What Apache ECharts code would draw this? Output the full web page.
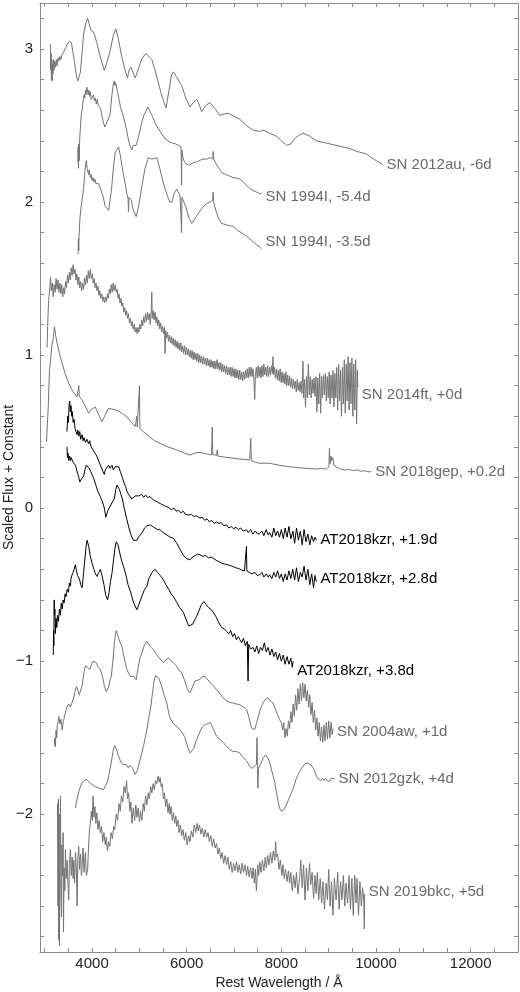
<!DOCTYPE html>
<html>
<head>
<meta charset="utf-8">
<script src="https://cdn.jsdelivr.net/npm/echarts@6/dist/echarts.min.js"></script>
<style>
html,body{margin:0;padding:0;background:#fff}
#main{width:520px;height:992px}
</style>
</head>
<body>
<div id="main"></div>
<script>
// spectra: [rest wavelength (A), scaled flux + constant]
var sn2012au = [[3120,3.03],[3128,2.86],[3135,2.97],[3142,2.80],[3150,2.93],[3158,2.79],[3166,2.90],[3175,2.84],[3185,2.93],[3195,2.86],[3210,2.92],[3227,2.88],[3245,2.93],[3260,2.89],[3280,2.94],[3300,2.92],[3320,2.95],[3340,2.93],[3360,2.96],[3380,2.95],[3400,2.98],[3420,2.99],[3445,3.01],[3474,3.03],[3500,3.02],[3520,3.05],[3543,3.06],[3565,3.04],[3579,3.03],[3600,2.97],[3627,2.92],[3660,2.84],[3697,2.79],[3730,2.82],[3754,2.85],[3790,2.98],[3823,3.10],[3870,3.17],[3907,3.20],[3940,3.16],[3979,3.12],[4000,3.13],[4034,3.11],[4100,3.04],[4180,2.94],[4259,2.86],[4320,2.92],[4385,2.99],[4450,3.09],[4505,3.13],[4560,3.06],[4620,2.96],[4665,2.90],[4710,2.85],[4749,2.81],[4780,2.86],[4821,2.88],[4860,2.85],[4911,2.81],[4990,2.88],[5060,2.94],[5137,2.97],[5200,2.95],[5263,2.93],[5350,2.84],[5450,2.72],[5520,2.65],[5564,2.615],[5620,2.72],[5680,2.83],[5718,2.85],[5800,2.81],[5895,2.76],[5980,2.68],[6069,2.62],[6140,2.65],[6210,2.67],[6260,2.64],[6316,2.59],[6400,2.63],[6491,2.65],[6600,2.61],[6701,2.565],[6790,2.575],[6876,2.58],[7000,2.56],[7123,2.54],[7260,2.50],[7402,2.47],[7543,2.46],[7612,2.47],[7750,2.45],[7894,2.43],[8000,2.40],[8117,2.37],[8200,2.38],[8300,2.42],[8454,2.45],[8600,2.43],[8736,2.40],[8950,2.385],[9157,2.37],[9300,2.36],[9437,2.35],[9600,2.33],[9789,2.315],[9950,2.28],[10138,2.245]];

var sn1994i_a = [[3700,2.26],[3706,2.36],[3712,2.22],[3720,2.38],[3728,2.27],[3740,2.42],[3760,2.52],[3775,2.58],[3790,2.60],[3810,2.66],[3830,2.70],[3845,2.68],[3860,2.73],[3875,2.70],[3890,2.75],[3907,2.755],[3920,2.70],[3935,2.73],[3950,2.69],[3965,2.72],[3980,2.67],[4000,2.68],[4015,2.66],[4030,2.70],[4050,2.66],[4070,2.68],[4090,2.64],[4110,2.67],[4130,2.63],[4150,2.64],[4180,2.61],[4210,2.56],[4240,2.52],[4270,2.49],[4300,2.51],[4340,2.50],[4380,2.57],[4420,2.70],[4450,2.77],[4465,2.79],[4480,2.76],[4500,2.78],[4530,2.73],[4570,2.67],[4600,2.62],[4650,2.57],[4700,2.51],[4730,2.47],[4760,2.42],[4790,2.38],[4810,2.36],[4840,2.34],[4870,2.37],[4900,2.38],[4930,2.37],[4960,2.40],[5000,2.45],[5050,2.52],[5100,2.57],[5150,2.60],[5180,2.62],[5210,2.60],[5240,2.58],[5290,2.55],[5340,2.51],[5380,2.49],[5420,2.47],[5480,2.44],[5550,2.41],[5600,2.40],[5650,2.39],[5700,2.385],[5760,2.38],[5830,2.37],[5880,2.36],[5892,2.11],[5898,2.34],[5920,2.29],[5940,2.27],[5980,2.25],[6020,2.245],[6060,2.24],[6100,2.25],[6150,2.26],[6200,2.26],[6260,2.27],[6340,2.28],[6420,2.28],[6500,2.29],[6550,2.28],[6560,2.33],[6570,2.28],[6620,2.25],[6680,2.22],[6750,2.19],[6820,2.18],[6900,2.17],[6980,2.16],[7050,2.155],[7120,2.15],[7200,2.13],[7260,2.11],[7330,2.09],[7400,2.075],[7470,2.065],[7520,2.06],[7550,2.065],[7565,2.05],[7580,2.06]];

var sn1994i_b = [[3705,1.66],[3712,1.76],[3718,1.68],[3726,1.78],[3745,1.90],[3770,1.97],[3789,1.97],[3805,2.05],[3823,2.10],[3850,2.20],[3865,2.25],[3880,2.27],[3895,2.22],[3907,2.23],[3925,2.18],[3940,2.21],[3960,2.16],[3980,2.18],[4000,2.14],[4020,2.16],[4040,2.13],[4060,2.15],[4080,2.12],[4105,2.13],[4140,2.12],[4175,2.12],[4230,2.04],[4280,1.97],[4316,1.96],[4350,1.945],[4370,1.95],[4410,2.08],[4450,2.22],[4490,2.325],[4525,2.34],[4560,2.36],[4600,2.30],[4650,2.20],[4700,2.12],[4737,2.05],[4762,2.02],[4770,1.935],[4778,2.03],[4827,2.015],[4870,1.95],[4933,1.905],[4990,1.98],[5050,2.10],[5120,2.22],[5191,2.29],[5260,2.28],[5368,2.29],[5430,2.22],[5500,2.13],[5580,2.05],[5640,2.00],[5684,2.00],[5740,2.06],[5789,2.085],[5859,2.04],[5892,1.80],[5898,2.03],[5930,2.03],[5980,1.97],[6040,1.90],[6105,1.86],[6170,1.89],[6244,1.925],[6320,1.96],[6420,1.99],[6500,2.00],[6547,2.01],[6560,2.065],[6570,2.00],[6620,1.94],[6680,1.89],[6736,1.86],[6850,1.85],[6981,1.84],[7100,1.81],[7200,1.79],[7296,1.77],[7400,1.74],[7480,1.72],[7543,1.706],[7580,1.695]];

var sn2014ft = [[3050,1.05],[3065,1.22],[3080,1.34],[3095,1.40],[3108,1.445],[3122,1.51],[3140,1.42],[3160,1.47],[3180,1.38],[3200,1.46],[3220,1.41],[3240,1.50],[3260,1.43],[3280,1.49],[3300,1.41],[3320,1.47],[3340,1.40],[3360,1.46],[3380,1.38],[3402,1.44],[3420,1.40],[3440,1.48],[3460,1.44],[3480,1.52],[3500,1.47],[3520,1.54],[3540,1.49],[3560,1.57],[3579,1.52],[3600,1.59],[3620,1.53],[3640,1.56],[3660,1.49],[3680,1.53],[3700,1.46],[3720,1.51],[3740,1.44],[3760,1.48],[3780,1.42],[3800,1.47],[3820,1.43],[3840,1.50],[3860,1.46],[3880,1.52],[3900,1.47],[3920,1.55],[3940,1.50],[3963,1.56],[3985,1.50],[4005,1.53],[4025,1.47],[4045,1.50],[4065,1.44],[4085,1.47],[4104,1.42],[4125,1.45],[4145,1.39],[4165,1.42],[4185,1.37],[4205,1.40],[4225,1.35],[4245,1.38],[4265,1.34],[4285,1.38],[4305,1.35],[4325,1.40],[4345,1.37],[4365,1.43],[4385,1.40],[4405,1.46],[4425,1.41],[4445,1.47],[4465,1.42],[4490,1.46],[4510,1.41],[4530,1.43],[4550,1.37],[4570,1.40],[4590,1.34],[4610,1.37],[4630,1.32],[4650,1.34],[4670,1.28],[4690,1.31],[4710,1.26],[4730,1.29],[4750,1.24],[4770,1.27],[4790,1.21],[4810,1.24],[4830,1.19],[4850,1.22],[4870,1.17],[4890,1.20],[4910,1.15],[4930,1.18],[4950,1.14],[4970,1.18],[4990,1.15],[5010,1.20],[5030,1.17],[5050,1.23],[5070,1.19],[5090,1.25],[5110,1.21],[5130,1.27],[5150,1.22],[5170,1.28],[5190,1.23],[5210,1.27],[5230,1.20],[5250,1.29],[5262,1.41],[5272,1.24],[5290,1.29],[5310,1.23],[5330,1.28],[5350,1.21],[5370,1.25],[5390,1.19],[5410,1.23],[5430,1.17],[5450,1.21],[5470,1.15],[5490,1.19],[5510,1.14],[5530,1.18],[5543,1.01],[5555,1.16],[5575,1.11],[5595,1.15],[5615,1.09],[5635,1.13],[5655,1.08],[5675,1.12],[5695,1.07],[5715,1.11],[5735,1.06],[5755,1.10],[5775,1.05],[5795,1.09],[5815,1.04],[5835,1.08],[5855,1.03],[5875,1.08],[5895,1.02],[5915,1.06],[5935,1.01],[5955,1.06],[5975,1.00],[5995,1.05],[6015,1.00],[6035,1.04],[6055,0.99],[6075,1.03],[6095,0.98],[6115,1.03],[6135,0.97],[6155,1.02],[6175,0.97],[6195,1.01],[6215,0.96],[6235,1.01],[6255,0.95],[6275,1.00],[6295,0.95],[6315,0.99],[6335,0.94],[6355,0.99],[6375,0.94],[6395,0.98],[6415,0.93],[6435,0.98],[6455,0.93],[6475,0.97],[6495,0.92],[6515,0.97],[6535,0.92],[6555,0.96],[6575,0.91],[6595,0.96],[6615,0.91],[6640,0.97],[6660,0.91],[6680,0.95],[6700,0.90],[6720,0.95],[6740,0.89],[6760,0.94],[6780,0.89],[6800,0.93],[6820,0.88],[6840,0.93],[6860,0.87],[6880,0.92],[6900,0.87],[6920,0.92],[6940,0.86],[6960,0.92],[6980,0.86],[7000,0.91],[7020,0.85],[7040,0.91],[7060,0.85],[7080,0.90],[7100,0.84],[7120,0.90],[7140,0.84],[7160,0.89],[7180,0.83],[7200,0.89],[7220,0.84],[7240,0.90],[7260,0.85],[7280,0.91],[7300,0.85],[7320,0.92],[7340,0.86],[7360,0.92],[7380,0.86],[7400,0.91],[7420,0.84],[7437,0.71],[7450,0.86],[7470,0.92],[7490,0.85],[7510,0.93],[7530,0.86],[7550,0.92],[7570,0.85],[7590,0.93],[7610,0.86],[7630,0.94],[7650,0.87],[7670,0.92],[7690,0.86],[7710,0.93],[7730,0.86],[7750,0.92],[7770,0.87],[7790,0.93],[7810,0.88],[7823,0.99],[7835,0.87],[7855,0.92],[7875,0.85],[7895,0.91],[7915,0.84],[7935,0.90],[7955,0.83],[7975,0.91],[7995,0.82],[8015,0.89],[8035,0.82],[8055,0.88],[8075,0.81],[8095,0.89],[8115,0.80],[8135,0.87],[8155,0.80],[8175,0.86],[8195,0.79],[8215,0.85],[8235,0.78],[8255,0.84],[8275,0.78],[8295,0.83],[8315,0.76],[8335,0.84],[8355,0.77],[8375,0.82],[8395,0.76],[8415,0.83],[8435,0.75],[8455,0.96],[8470,0.72],[8490,0.84],[8510,0.66],[8530,0.86],[8550,0.72],[8570,0.94],[8590,0.74],[8610,0.86],[8630,0.72],[8650,0.84],[8670,0.75],[8690,0.85],[8710,0.73],[8730,0.86],[8750,0.63],[8770,0.85],[8790,0.68],[8810,0.88],[8830,0.62],[8850,0.86],[8870,0.72],[8890,0.87],[8910,0.74],[8930,0.88],[8950,0.70],[8970,0.86],[8990,0.72],[9010,0.89],[9030,0.68],[9050,0.87],[9070,0.72],[9090,0.90],[9110,0.66],[9130,0.88],[9150,0.72],[9170,0.92],[9190,0.64],[9210,0.94],[9230,0.70],[9250,0.90],[9270,0.60],[9290,0.92],[9310,0.68],[9330,0.97],[9350,0.62],[9370,0.94],[9390,0.70],[9410,0.99],[9430,0.64],[9450,0.95],[9470,0.68],[9490,0.98],[9510,0.60],[9530,0.94],[9550,0.64],[9570,0.97],[9590,0.55],[9605,0.90],[9615,0.79]];

var sn2018gep = [[3038,0.434],[3074,0.66],[3100,0.90],[3122,0.967],[3150,1.06],[3179,1.108],[3206,1.184],[3230,1.13],[3263,1.076],[3310,1.01],[3368,0.945],[3440,0.87],[3507,0.815],[3600,0.76],[3684,0.727],[3710,0.74],[3720,0.80],[3730,0.73],[3789,0.706],[3850,0.67],[3928,0.62],[3990,0.645],[4069,0.66],[4140,0.61],[4210,0.564],[4280,0.61],[4350,0.652],[4440,0.645],[4526,0.64],[4630,0.62],[4737,0.597],[4830,0.56],[4911,0.532],[4940,0.53],[4947,0.60],[4955,0.53],[4995,0.52],[5002,0.80],[5010,0.52],[5086,0.499],[5200,0.47],[5320,0.44],[5438,0.423],[5600,0.40],[5789,0.38],[5950,0.36],[6069,0.347],[6180,0.36],[6280,0.365],[6400,0.355],[6526,0.347],[6539,0.53],[6550,0.35],[6635,0.345],[6644,0.38],[6655,0.34],[6800,0.333],[6981,0.326],[7150,0.32],[7332,0.314],[7353,0.456],[7365,0.31],[7450,0.30],[7543,0.293],[7650,0.293],[7753,0.293],[7950,0.28],[8174,0.27],[8450,0.262],[8736,0.255],[8850,0.26],[8950,0.255],[9005,0.27],[9016,0.39],[9028,0.29],[9050,0.34],[9065,0.31],[9086,0.33],[9110,0.28],[9156,0.27],[9250,0.255],[9350,0.25],[9437,0.252],[9520,0.245],[9600,0.25],[9680,0.24],[9750,0.245],[9830,0.237],[9900,0.238]];

var at2018kzr_19 = [[3470,0.50],[3485,0.60],[3500,0.56],[3515,0.68],[3528,0.70],[3540,0.63],[3555,0.67],[3570,0.60],[3585,0.63],[3600,0.56],[3620,0.58],[3640,0.52],[3660,0.53],[3684,0.48],[3700,0.51],[3720,0.47],[3740,0.50],[3760,0.45],[3789,0.48],[3810,0.44],[3830,0.46],[3860,0.43],[3890,0.45],[3928,0.42],[3950,0.44],[3980,0.40],[4010,0.41],[4040,0.37],[4069,0.38],[4100,0.34],[4130,0.33],[4175,0.28],[4200,0.27],[4230,0.24],[4259,0.22],[4280,0.25],[4310,0.26],[4349,0.28],[4380,0.26],[4420,0.28],[4450,0.25],[4490,0.27],[4520,0.26],[4560,0.27],[4596,0.24],[4640,0.20],[4680,0.16],[4710,0.14],[4737,0.11],[4770,0.09],[4800,0.08],[4840,0.06],[4876,0.065],[4910,0.08],[4950,0.09],[4990,0.08],[5052,0.09],[5090,0.07],[5130,0.085],[5180,0.07],[5227,0.075],[5270,0.06],[5320,0.05],[5380,0.04],[5438,0.03],[5480,0.025],[5530,0.015],[5579,0.01],[5630,0.0],[5680,-0.01],[5730,0.0],[5780,-0.02],[5830,-0.015],[5880,-0.03],[5930,-0.02],[5970,-0.04],[6000,-0.03],[6050,-0.045],[6100,-0.04],[6150,-0.055],[6200,-0.05],[6280,-0.065],[6330,-0.06],[6380,-0.08],[6430,-0.07],[6480,-0.09],[6530,-0.08],[6580,-0.10],[6630,-0.09],[6680,-0.10],[6730,-0.095],[6780,-0.115],[6842,-0.11],[6890,-0.13],[6940,-0.12],[6990,-0.135],[7040,-0.125],[7090,-0.14],[7140,-0.13],[7190,-0.15],[7263,-0.142],[7300,-0.16],[7350,-0.14],[7400,-0.17],[7450,-0.15],[7500,-0.17],[7543,-0.164],[7590,-0.15],[7630,-0.18],[7680,-0.14],[7720,-0.175],[7753,-0.16],[7800,-0.19],[7840,-0.13],[7880,-0.18],[7920,-0.15],[7960,-0.19],[8000,-0.14],[8040,-0.20],[8080,-0.13],[8120,-0.19],[8160,-0.12],[8200,-0.20],[8244,-0.15],[8280,-0.23],[8320,-0.13],[8360,-0.21],[8400,-0.15],[8440,-0.24],[8480,-0.14],[8520,-0.22],[8560,-0.17],[8600,-0.24],[8640,-0.18],[8680,-0.22],[8710,-0.19],[8740,-0.21]];

var at2018kzr_28 = [[3470,0.40],[3480,0.33],[3490,0.36],[3507,0.31],[3525,0.34],[3545,0.31],[3560,0.33],[3579,0.32],[3600,0.30],[3620,0.31],[3650,0.28],[3684,0.27],[3700,0.22],[3720,0.20],[3740,0.17],[3754,0.16],[3775,0.19],[3800,0.20],[3823,0.21],[3850,0.25],[3880,0.28],[3900,0.29],[3916,0.29],[3940,0.26],[3970,0.24],[4000,0.23],[4040,0.19],[4080,0.15],[4120,0.11],[4175,0.075],[4220,0.04],[4260,0.0],[4290,-0.06],[4301,-0.066],[4330,-0.02],[4360,0.0],[4385,0.01],[4430,0.04],[4470,0.06],[4500,0.12],[4526,0.15],[4550,0.14],[4580,0.12],[4610,0.09],[4640,0.06],[4680,0.0],[4737,-0.077],[4780,-0.13],[4830,-0.18],[4870,-0.21],[4911,-0.22],[4950,-0.21],[4980,-0.19],[5017,-0.186],[5060,-0.16],[5110,-0.13],[5160,-0.115],[5227,-0.11],[5280,-0.12],[5330,-0.13],[5380,-0.14],[5438,-0.142],[5500,-0.16],[5580,-0.175],[5650,-0.19],[5718,-0.196],[5790,-0.23],[5860,-0.27],[5930,-0.31],[6000,-0.33],[6069,-0.338],[6120,-0.32],[6180,-0.31],[6230,-0.30],[6280,-0.305],[6340,-0.315],[6400,-0.31],[6460,-0.325],[6520,-0.32],[6560,-0.327],[6620,-0.34],[6680,-0.35],[6740,-0.36],[6800,-0.365],[6860,-0.37],[6920,-0.375],[6981,-0.382],[7040,-0.39],[7100,-0.395],[7160,-0.405],[7220,-0.41],[7250,-0.40],[7262,-0.25],[7270,-0.41],[7320,-0.42],[7380,-0.43],[7440,-0.42],[7490,-0.44],[7543,-0.436],[7590,-0.42],[7630,-0.45],[7680,-0.43],[7720,-0.45],[7753,-0.436],[7800,-0.46],[7840,-0.42],[7880,-0.45],[7920,-0.41],[7960,-0.46],[8000,-0.43],[8040,-0.48],[8080,-0.43],[8120,-0.47],[8160,-0.41],[8200,-0.46],[8240,-0.40],[8280,-0.47],[8320,-0.39],[8360,-0.48],[8400,-0.42],[8440,-0.45],[8480,-0.38],[8520,-0.47],[8560,-0.40],[8600,-0.50],[8640,-0.43],[8680,-0.52],[8710,-0.44],[8740,-0.48]];

var at2018kzr_38 = [[3180,-0.96],[3186,-0.80],[3192,-0.90],[3200,-0.60],[3206,-0.70],[3215,-0.66],[3225,-0.82],[3240,-0.72],[3255,-0.78],[3270,-0.70],[3290,-0.74],[3310,-0.66],[3330,-0.70],[3350,-0.62],[3368,-0.66],[3390,-0.60],[3410,-0.62],[3430,-0.56],[3450,-0.58],[3474,-0.53],[3500,-0.55],[3520,-0.49],[3540,-0.51],[3560,-0.45],[3579,-0.46],[3600,-0.42],[3620,-0.40],[3648,-0.37],[3670,-0.41],[3695,-0.44],[3718,-0.45],[3740,-0.47],[3760,-0.50],[3789,-0.52],[3810,-0.46],[3840,-0.36],[3870,-0.26],[3895,-0.21],[3907,-0.207],[3930,-0.25],[3960,-0.31],[4000,-0.36],[4040,-0.40],[4070,-0.43],[4105,-0.447],[4140,-0.42],[4175,-0.40],[4210,-0.44],[4250,-0.50],[4290,-0.57],[4328,-0.60],[4360,-0.55],[4390,-0.48],[4421,-0.425],[4450,-0.35],[4480,-0.27],[4510,-0.22],[4526,-0.207],[4550,-0.24],[4590,-0.30],[4630,-0.35],[4665,-0.382],[4710,-0.43],[4760,-0.50],[4821,-0.555],[4880,-0.62],[4947,-0.664],[5000,-0.62],[5060,-0.57],[5110,-0.53],[5158,-0.512],[5200,-0.46],[5250,-0.43],[5290,-0.41],[5333,-0.40],[5380,-0.42],[5440,-0.44],[5507,-0.468],[5560,-0.50],[5620,-0.53],[5670,-0.56],[5718,-0.577],[5780,-0.61],[5850,-0.65],[5928,-0.68],[5990,-0.73],[6040,-0.77],[6069,-0.78],[6120,-0.76],[6170,-0.73],[6210,-0.708],[6260,-0.67],[6310,-0.63],[6364,-0.61],[6410,-0.63],[6460,-0.65],[6510,-0.66],[6560,-0.68],[6620,-0.71],[6680,-0.75],[6740,-0.78],[6800,-0.79],[6842,-0.806],[6890,-0.82],[6930,-0.80],[6970,-0.84],[7010,-0.82],[7050,-0.86],[7090,-0.84],[7123,-0.86],[7160,-0.88],[7200,-0.85],[7240,-0.90],[7280,-0.87],[7296,-1.13],[7310,-0.89],[7350,-0.92],[7402,-0.91],[7440,-0.94],[7480,-0.90],[7520,-0.95],[7560,-0.91],[7600,-0.93],[7640,-0.88],[7680,-0.94],[7720,-0.91],[7760,-0.96],[7800,-0.92],[7840,-0.97],[7880,-0.94],[7920,-0.99],[7960,-0.95],[8000,-1.0],[8040,-0.96],[8080,-1.02],[8120,-0.97],[8160,-1.02],[8200,-0.98],[8230,-1.04],[8250,-1.0]];

var sn2004aw = [[3200,-1.55],[3215,-1.50],[3225,-1.56],[3240,-1.45],[3255,-1.50],[3263,-1.42],[3280,-1.40],[3297,-1.36],[3320,-1.41],[3345,-1.38],[3368,-1.45],[3390,-1.40],[3420,-1.36],[3450,-1.32],[3474,-1.295],[3510,-1.28],[3545,-1.30],[3579,-1.27],[3610,-1.24],[3640,-1.20],[3670,-1.165],[3700,-1.19],[3730,-1.22],[3754,-1.23],[3790,-1.16],[3830,-1.07],[3860,-1.03],[3880,-1.023],[3910,-1.04],[3950,-1.055],[3990,-1.02],[4020,-1.0],[4055,-0.99],[4090,-1.01],[4130,-1.04],[4175,-1.055],[4220,-1.10],[4260,-1.16],[4300,-1.20],[4316,-1.207],[4350,-1.17],[4380,-1.12],[4406,-1.10],[4440,-1.0],[4470,-0.89],[4495,-0.82],[4512,-0.80],[4540,-0.83],[4580,-0.87],[4631,-0.903],[4680,-0.98],[4730,-1.05],[4770,-1.077],[4810,-1.10],[4842,-1.11],[4880,-1.10],[4933,-1.12],[4970,-1.05],[5010,-0.98],[5052,-0.947],[5100,-0.90],[5158,-0.87],[5200,-0.89],[5250,-0.91],[5297,-0.925],[5350,-0.95],[5420,-0.98],[5507,-1.01],[5560,-0.99],[5620,-0.98],[5670,-1.00],[5718,-1.01],[5780,-1.03],[5840,-1.06],[5895,-1.077],[5950,-1.12],[6010,-1.18],[6069,-1.207],[6120,-1.17],[6170,-1.13],[6210,-1.12],[6280,-1.12],[6330,-1.10],[6385,-1.10],[6421,-1.11],[6500,-1.14],[6560,-1.16],[6631,-1.186],[6700,-1.21],[6770,-1.24],[6850,-1.26],[6920,-1.27],[6981,-1.273],[7050,-1.28],[7122,-1.284],[7200,-1.30],[7263,-1.316],[7310,-1.36],[7368,-1.436],[7437,-1.447],[7470,-1.41],[7507,-1.37],[7560,-1.31],[7612,-1.273],[7660,-1.25],[7718,-1.24],[7770,-1.26],[7823,-1.273],[7870,-1.31],[7920,-1.35],[7960,-1.38],[8000,-1.403],[8030,-1.45],[8050,-1.40],[8075,-1.50],[8100,-1.44],[8125,-1.49],[8150,-1.39],[8175,-1.44],[8200,-1.33],[8225,-1.40],[8250,-1.28],[8275,-1.36],[8300,-1.22],[8325,-1.32],[8350,-1.18],[8375,-1.28],[8400,-1.15],[8425,-1.26],[8450,-1.14],[8475,-1.24],[8500,-1.15],[8525,-1.26],[8550,-1.19],[8575,-1.30],[8600,-1.22],[8625,-1.35],[8650,-1.27],[8675,-1.40],[8700,-1.32],[8725,-1.45],[8750,-1.37],[8775,-1.49],[8800,-1.40],[8825,-1.52],[8850,-1.43],[8875,-1.53],[8900,-1.42],[8925,-1.52],[8950,-1.40],[8975,-1.51],[9000,-1.39],[9025,-1.50],[9050,-1.40],[9075,-1.48],[9090,-1.44]];

var sn2012gzk = [[3648,-1.96],[3670,-1.92],[3697,-1.88],[3740,-1.83],[3789,-1.795],[3830,-1.78],[3880,-1.773],[3940,-1.79],[4000,-1.805],[4070,-1.82],[4139,-1.827],[4190,-1.835],[4244,-1.838],[4290,-1.81],[4328,-1.784],[4370,-1.72],[4421,-1.632],[4450,-1.58],[4476,-1.551],[4510,-1.57],[4560,-1.621],[4610,-1.66],[4653,-1.675],[4690,-1.67],[4722,-1.675],[4770,-1.697],[4800,-1.68],[4821,-1.675],[4860,-1.70],[4911,-1.74],[4960,-1.71],[5017,-1.642],[5090,-1.55],[5158,-1.447],[5200,-1.37],[5242,-1.295],[5280,-1.20],[5310,-1.13],[5340,-1.095],[5368,-1.088],[5410,-1.11],[5473,-1.165],[5520,-1.22],[5579,-1.273],[5620,-1.34],[5648,-1.37],[5700,-1.40],[5760,-1.42],[5800,-1.43],[5859,-1.447],[5910,-1.47],[5964,-1.50],[6030,-1.57],[6070,-1.60],[6105,-1.61],[6150,-1.57],[6200,-1.52],[6280,-1.46],[6330,-1.43],[6385,-1.414],[6430,-1.41],[6470,-1.42],[6500,-1.40],[6560,-1.44],[6630,-1.49],[6700,-1.51],[6770,-1.53],[6850,-1.56],[6912,-1.577],[6981,-1.59],[7050,-1.59],[7120,-1.60],[7191,-1.63],[7263,-1.65],[7320,-1.68],[7368,-1.70],[7420,-1.69],[7473,-1.675],[7486,-1.50],[7495,-1.70],[7505,-1.83],[7515,-1.70],[7579,-1.66],[7620,-1.63],[7668,-1.613],[7710,-1.63],[7753,-1.66],[7800,-1.72],[7859,-1.79],[7920,-1.90],[7960,-1.96],[8000,-1.98],[8050,-1.97],[8105,-1.94],[8170,-1.89],[8244,-1.838],[8310,-1.77],[8385,-1.72],[8450,-1.69],[8500,-1.67],[8560,-1.665],[8600,-1.67],[8630,-1.68],[8665,-1.686],[8700,-1.71],[8740,-1.75],[8780,-1.77],[8806,-1.773],[8840,-1.78],[8870,-1.765],[8900,-1.78],[8930,-1.765],[8960,-1.78],[8990,-1.77],[9020,-1.785],[9050,-1.765],[9090,-1.775],[9121,-1.767]];

var sn2019bkc = [[3270,-1.93],[3280,-2.60],[3288,-1.90],[3295,-2.82],[3303,-2.00],[3312,-2.86],[3320,-2.30],[3333,-1.88],[3342,-2.50],[3354,-2.67],[3362,-2.20],[3375,-2.40],[3389,-2.12],[3396,-2.77],[3410,-2.35],[3425,-2.50],[3438,-2.23],[3455,-2.42],[3474,-2.30],[3490,-2.45],[3507,-2.56],[3522,-2.32],[3543,-2.23],[3560,-2.40],[3580,-2.28],[3600,-2.42],[3613,-2.30],[3630,-2.45],[3650,-2.25],[3670,-2.38],[3684,-2.60],[3698,-2.30],[3718,-2.21],[3735,-2.36],[3755,-2.26],[3775,-2.40],[3789,-2.34],[3810,-2.22],[3830,-2.38],[3859,-2.25],[3880,-2.40],[3907,-2.36],[3925,-2.22],[3945,-2.10],[3964,-2.06],[3985,-1.98],[4005,-2.04],[4021,-1.88],[4040,-2.02],[4060,-1.95],[4080,-2.06],[4100,-1.99],[4125,-2.10],[4150,-2.04],[4175,-2.12],[4200,-2.08],[4225,-2.18],[4250,-2.12],[4280,-2.20],[4300,-2.15],[4325,-2.24],[4349,-2.18],[4375,-2.21],[4400,-2.12],[4430,-2.16],[4455,-2.08],[4480,-2.10],[4510,-2.00],[4540,-2.04],[4570,-1.93],[4596,-1.98],[4620,-1.88],[4650,-1.92],[4675,-1.82],[4701,-1.86],[4730,-1.78],[4750,-1.90],[4770,-1.86],[4800,-1.98],[4820,-1.92],[4842,-2.06],[4870,-1.96],[4900,-2.04],[4925,-1.94],[4947,-2.02],[4975,-1.96],[5000,-2.05],[5025,-1.98],[5052,-2.04],[5080,-1.93],[5105,-1.98],[5130,-1.88],[5158,-1.94],[5185,-1.86],[5210,-1.90],[5240,-1.82],[5263,-1.86],[5290,-1.80],[5315,-1.84],[5340,-1.78],[5368,-1.80],[5395,-1.75],[5420,-1.79],[5438,-1.76],[5460,-1.82],[5485,-1.80],[5507,-1.90],[5530,-1.86],[5555,-1.95],[5580,-1.90],[5605,-1.99],[5630,-1.93],[5648,-2.00],[5670,-1.95],[5695,-2.04],[5720,-1.99],[5745,-2.06],[5770,-2.01],[5789,-2.08],[5815,-2.04],[5840,-2.12],[5865,-2.07],[5895,-2.14],[5920,-2.10],[5950,-2.17],[5980,-2.12],[6010,-2.20],[6040,-2.14],[6069,-2.18],[6100,-2.11],[6130,-2.15],[6160,-2.07],[6190,-2.12],[6220,-2.06],[6244,-2.11],[6270,-2.07],[6300,-2.13],[6330,-2.09],[6360,-2.15],[6390,-2.10],[6421,-2.15],[6450,-2.12],[6480,-2.18],[6510,-2.14],[6540,-2.21],[6570,-2.16],[6600,-2.22],[6631,-2.19],[6660,-2.26],[6690,-2.22],[6720,-2.29],[6750,-2.25],[6780,-2.32],[6810,-2.27],[6842,-2.33],[6870,-2.28],[6900,-2.36],[6930,-2.31],[6960,-2.38],[6990,-2.32],[7020,-2.37],[7052,-2.31],[7080,-2.38],[7110,-2.33],[7140,-2.39],[7170,-2.32],[7200,-2.38],[7230,-2.33],[7263,-2.40],[7290,-2.34],[7320,-2.41],[7350,-2.35],[7380,-2.42],[7402,-2.35],[7430,-2.45],[7450,-2.36],[7473,-2.50],[7500,-2.33],[7520,-2.40],[7543,-2.31],[7570,-2.38],[7600,-2.30],[7630,-2.37],[7660,-2.28],[7684,-2.35],[7710,-2.27],[7740,-2.33],[7770,-2.25],[7800,-2.32],[7830,-2.24],[7860,-2.30],[7880,-2.18],[7894,-2.28],[7920,-2.26],[7950,-2.36],[7980,-2.30],[8010,-2.40],[8033,-2.33],[8060,-2.42],[8090,-2.36],[8120,-2.44],[8150,-2.37],[8174,-2.45],[8200,-2.38],[8230,-2.50],[8260,-2.40],[8290,-2.48],[8320,-2.38],[8350,-2.52],[8385,-2.42],[8410,-2.30],[8440,-2.48],[8470,-2.33],[8500,-2.56],[8530,-2.35],[8560,-2.50],[8595,-2.32],[8620,-2.46],[8650,-2.38],[8680,-2.55],[8710,-2.40],[8736,-2.52],[8760,-2.38],[8790,-2.56],[8820,-2.42],[8850,-2.58],[8880,-2.44],[8910,-2.62],[8947,-2.45],[8975,-2.56],[9000,-2.36],[9030,-2.60],[9060,-2.44],[9090,-2.66],[9120,-2.42],[9157,-2.56],[9190,-2.38],[9220,-2.62],[9250,-2.44],[9280,-2.56],[9310,-2.40],[9340,-2.60],[9367,-2.45],[9400,-2.58],[9430,-2.40],[9460,-2.62],[9490,-2.42],[9520,-2.66],[9550,-2.40],[9578,-2.58],[9600,-2.42],[9630,-2.66],[9660,-2.44],[9690,-2.60],[9717,-2.48],[9740,-2.56],[9753,-2.75],[9760,-2.52]];

var names = ['SN 2012au, -6d', 'SN 1994I, -5.4d', 'SN 1994I, -3.5d', 'SN 2014ft, +0d', 'SN 2018gep, +0.2d',
             'AT2018kzr, +1.9d', 'AT2018kzr, +2.8d', 'AT2018kzr, +3.8d', 'SN 2004aw, +1d', 'SN 2012gzk, +4d', 'SN 2019bkc, +5d'];
var spectra = [sn2012au, sn1994i_a, sn1994i_b, sn2014ft, sn2018gep, at2018kzr_19, at2018kzr_28, at2018kzr_38, sn2004aw, sn2012gzk, sn2019bkc];

var GREY = '#737373';
var FONT = 'Liberation Sans, Arial, sans-serif';
// vertical nudge of each end label (px)
var labelDy = [0, 4, -7, 8, 0, 0, -3, 10, 3, 0, -2];

var dom = document.getElementById('main');
var myChart = echarts.init(dom, null, {renderer: 'canvas'});

var series = spectra.map(function (d, i) {
    var col = names[i].indexOf('AT2018kzr') === 0 ? '#000' : GREY;
    return {
        name: names[i],
        type: 'line',
        xAxisIndex: 0,
        yAxisIndex: 0,
        data: d,
        symbol: 'none',
        showSymbol: false,
        silent: true,
        lineStyle: {color: col, width: 1},
        itemStyle: {color: col},
        endLabel: {
            show: true,
            formatter: '{a}',
            distance: 4,
            offset: [0, labelDy[i]],
            color: col === GREY ? '#6a6a6a' : '#000',
            fontSize: 15,
            fontFamily: FONT
        }
    };
});

function xLab(v) { return v % 2000 === 0 ? String(v) : ''; }
function yLab(v) {
    if (Math.abs(v - Math.round(v)) > 1e-6) return '';
    var r = Math.round(v);
    return r < 0 ? '\u2212' + Math.abs(r) : String(r);
}

var axisLine = {show: true, onZero: false, lineStyle: {color: '#8c8c8c', width: 1}};
var tick = {show: true, inside: true, length: 4, lineStyle: {color: '#8c8c8c'}};

myChart.setOption({
    animation: false,
    backgroundColor: '#fff',
    grid: {left: 40, right: 2, top: 3, bottom: 40, containLabel: false, outerBoundsMode: 'none'},
    xAxis: [{
        type: 'value', min: 2900, max: 13000, splitNumber: 20,
        name: 'Rest Wavelength / \u00c5', nameLocation: 'middle', nameGap: 24, nameMoveOverlap: false,
        nameTextStyle: {fontSize: 14, color: '#222', fontFamily: FONT},
        axisLine: axisLine, axisTick: tick, splitLine: {show: false},
        axisLabel: {formatter: xLab, fontSize: 15, color: '#222', margin: 4, fontFamily: FONT}
    }, {
        type: 'value', position: 'top', min: 2900, max: 13000, splitNumber: 20,
        axisLine: axisLine, axisTick: tick, splitLine: {show: false},
        axisLabel: {show: false}
    }],
    yAxis: [{
        type: 'value', min: -2.9, max: 3.3, splitNumber: 31,
        name: 'Scaled Flux + Constant', nameLocation: 'middle', nameGap: 24, nameMoveOverlap: false,
        nameTextStyle: {fontSize: 14, color: '#222', fontFamily: FONT},
        axisLine: axisLine, axisTick: tick, splitLine: {show: false},
        axisLabel: {formatter: yLab, fontSize: 15, color: '#222', margin: 7, fontFamily: FONT}
    }, {
        type: 'value', position: 'right', min: -2.9, max: 3.3, splitNumber: 31,
        axisLine: axisLine, axisTick: tick, splitLine: {show: false},
        axisLabel: {show: false}
    }],
    series: series
});
window.addEventListener('resize', function () { myChart.resize(); });
</script>
</body>
</html>
